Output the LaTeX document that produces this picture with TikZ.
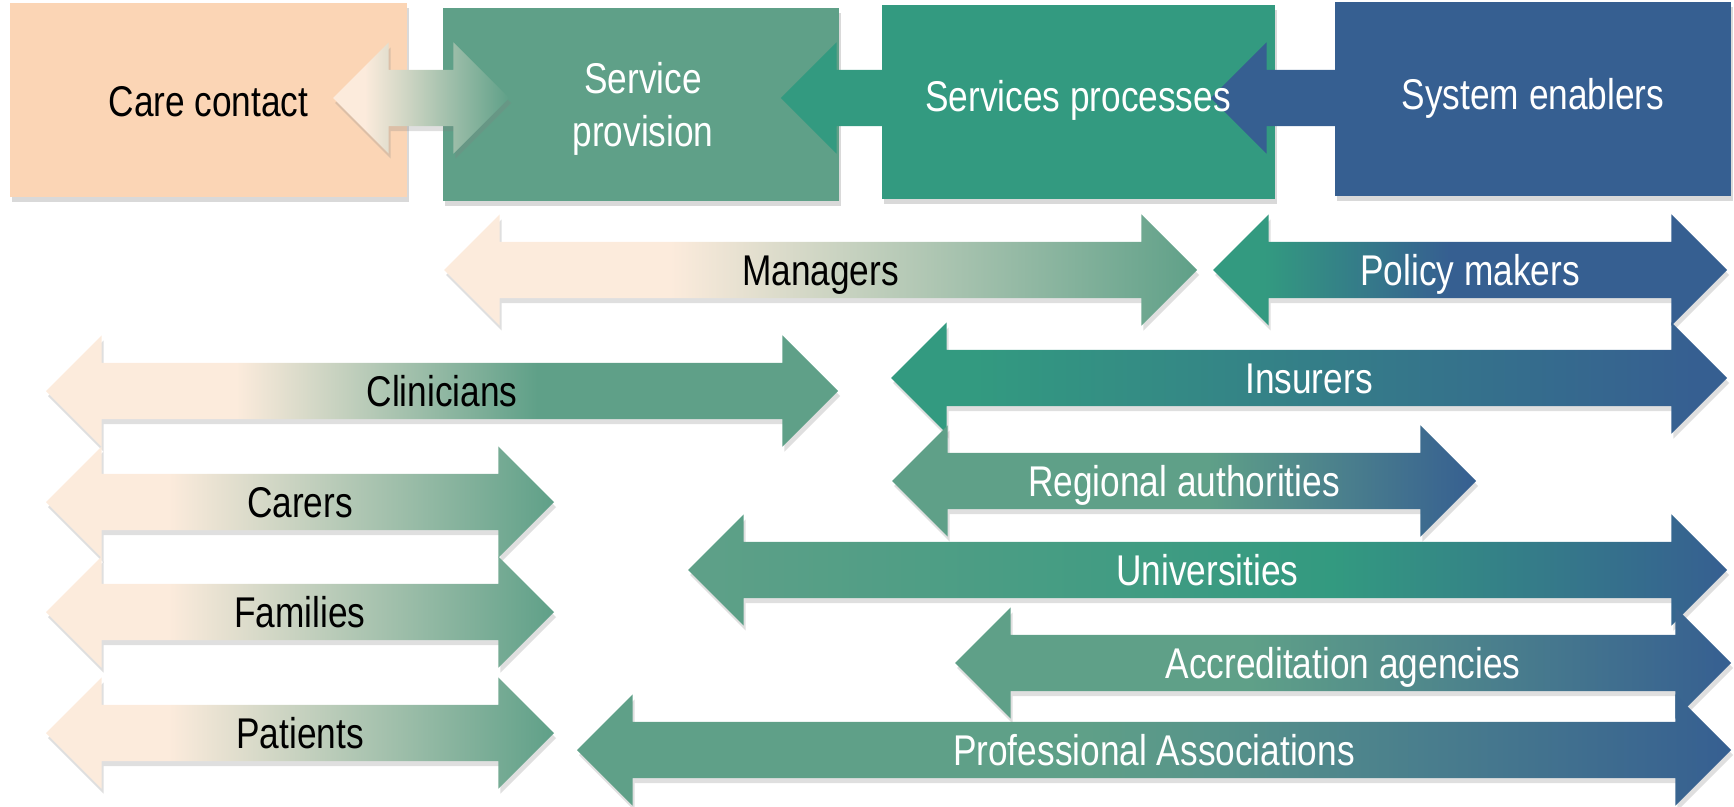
\documentclass[tikz,border=0pt]{standalone}
\usepackage{fontspec}
\setmainfont{Liberation Sans}[FakeStretch=0.82]
\usetikzlibrary{shapes.arrows,shadows}
\definecolor{peach}{HTML}{FBD5B5}
\definecolor{peachlt}{HTML}{FCEBDC}
\definecolor{sage}{HTML}{5FA088}
\definecolor{procteal}{HTML}{339A80}
\definecolor{enabblue}{HTML}{365F91}
% gradients along the arrows (25bp = left end, 75bp = right end)
\pgfdeclarehorizontalshading{ctgrad}{100bp}{color(0bp)=(peachlt); color(34bp)=(peachlt); color(75bp)=(sage); color(100bp)=(sage)}
\pgfdeclarehorizontalshading{mgrgrad}{100bp}{color(0bp)=(peachlt); color(40bp)=(peachlt); color(75bp)=(sage); color(100bp)=(sage)}
\pgfdeclarehorizontalshading{clingrad}{100bp}{color(0bp)=(peachlt); color(37bp)=(peachlt); color(56bp)=(sage); color(100bp)=(sage)}
\pgfdeclarehorizontalshading{famgrad}{100bp}{color(0bp)=(peachlt); color(37bp)=(peachlt); color(75bp)=(sage); color(100bp)=(sage)}
\pgfdeclarehorizontalshading{polgrad}{100bp}{color(0bp)=(procteal); color(30bp)=(procteal); color(48bp)=(enabblue); color(100bp)=(enabblue)}
\pgfdeclarehorizontalshading{insgrad}{100bp}{color(0bp)=(procteal); color(30bp)=(procteal); color(73bp)=(enabblue); color(100bp)=(enabblue)}
\pgfdeclarehorizontalshading{reggrad}{100bp}{color(0bp)=(sage); color(52bp)=(sage); color(75bp)=(enabblue); color(100bp)=(enabblue)}
\pgfdeclarehorizontalshading{unigrad}{100bp}{color(0bp)=(sage); color(25bp)=(sage); color(56bp)=(procteal); color(75bp)=(enabblue); color(100bp)=(enabblue)}
\pgfdeclarehorizontalshading{accgrad}{100bp}{color(0bp)=(sage); color(44bp)=(sage); color(75bp)=(enabblue); color(100bp)=(enabblue)}
\pgfdeclarehorizontalshading{prograd}{100bp}{color(0bp)=(sage); color(47bp)=(sage); color(75bp)=(enabblue); color(100bp)=(enabblue)}
\begin{document}
\begin{tikzpicture}[x=1pt, y=-1pt,
    every node/.style={font=\fontsize{43}{53}\selectfont},
    boxnode/.style={rectangle, minimum width=396pt, minimum height=194pt, inner sep=0pt,
        drop shadow={shadow xshift=2pt, shadow yshift=-5pt, opacity=0.3}},
    boxtext/.style={text=white, align=center, inner sep=0pt},
    dblarrow/.style={double arrow, double arrow head extend=27.5pt, double arrow tip angle=90,
        inner xsep=0pt, inner ysep=0pt, text height=43.3pt, text depth=12.7pt,
        drop shadow={shadow xshift=2pt, shadow yshift=-5pt, opacity=0.25}},
    onearrow/.style={single arrow, single arrow head extend=27.5pt, single arrow tip angle=90,
        inner sep=0pt, text height=28pt, text depth=28pt, shape border rotate=180}]
    \useasboundingbox (0,0) rectangle (1734,806);
    % the four stages
    \node[boxnode, fill=peach, minimum width=397pt] (care) at (208.5,100) {};
    \node[boxnode, fill=sage, minimum height=193pt] (prov) at (641,104.5) {};
    \node[boxnode, fill=procteal, minimum width=393pt] (proc) at (1078.5,102) {};
    \node[boxnode, fill=enabblue] (enab) at (1533,99) {};
    \node[dblarrow, shading=ctgrad, minimum height=176pt] (link) at (421,98) {};
    \node[onearrow, fill=procteal, minimum height=105pt] (procin) at (847.5,98) {};
    \node[onearrow, fill=enabblue, minimum height=125pt] (enabin) at (1287.5,98) {};
    \node[boxtext, text=black] (caretxt) at (208.5,102) {Care contact};
    \node[boxtext] (provtxt) at (643,109) {Service\\provision};
    \node[boxtext] (proctxt) at (1078,100) {Services processes};
    \node[boxtext] (enabtxt) at (1533,98) {System enablers};
    % actors
    \foreach \n/\xa/\xb/\y/\sh/\tc/\t in {
        mgr/444/1197/270/mgrgrad/black/Managers,
        pol/1213/1727/270/polgrad/white/Policy makers,
        clin/46/838/391/clingrad/black/Clinicians,
        ins/891/1727/378/insgrad/white/Insurers,
        reg/892/1476/481/reggrad/white/Regional authorities,
        car/46/554/502/famgrad/black/Carers,
        uni/688/1727/570/unigrad/white/Universities,
        fam/46/554/612/famgrad/black/Families,
        acc/955/1731/663/accgrad/white/Accreditation agencies,
        pat/46/554/733/famgrad/black/Patients,
        pro/577/1731/750/prograd/white/Professional Associations}
        \node[dblarrow, shading=\sh, text=\tc, minimum height={(\xb-\xa)*1pt}] (\n) at ({(\xa+\xb)/2},\y) {\t};
\end{tikzpicture}
\end{document}
